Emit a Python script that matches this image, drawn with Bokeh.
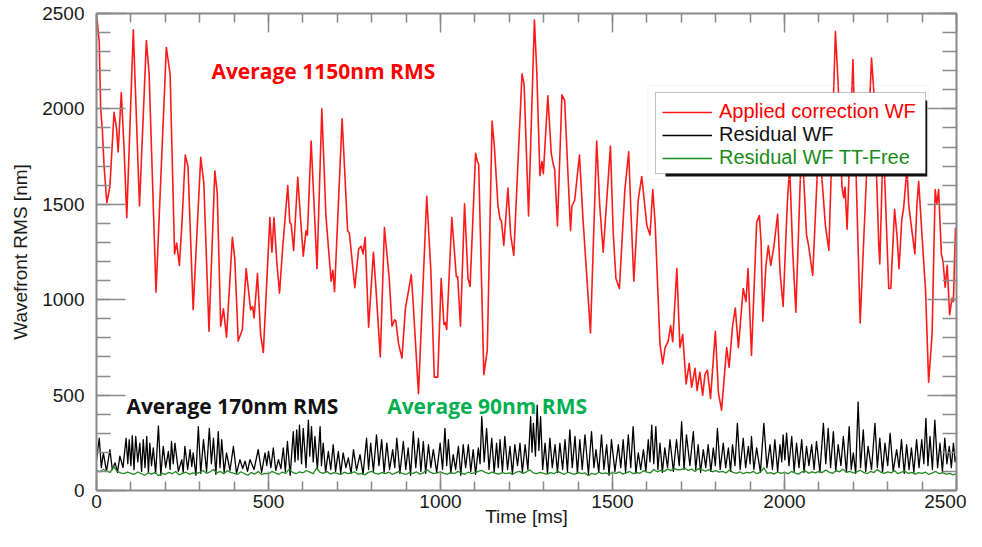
from bokeh.plotting import figure
from bokeh.models import (Range1d, LinearAxis, SingleIntervalTicker, Label, Legend,
                          LegendItem, BoxAnnotation, CustomJSTickFormatter)
from bokeh.embed import file_html
from bokeh.resources import INLINE

# ---------------- data ----------------
red_t = [0, 8, 12, 17, 22, 30, 39, 51, 58, 63, 72, 80, 88, 107, 125, 145, 153, 173, 203, 214,
         227, 233, 241, 249, 258, 266, 281, 303, 312, 327, 344, 351, 361, 369, 378, 395, 402, 412,
         424, 435, 448, 454, 458, 468, 477, 485, 504, 510, 516, 524, 532, 541, 556, 562, 566, 573,
         585, 590, 601, 609, 613, 624, 641, 655, 667, 682, 687, 692, 714, 730, 735, 751, 762, 769,
         775, 781, 791, 805, 812, 825, 837, 851, 859, 866, 870, 878, 888, 898, 905, 915, 920, 936,
         960, 972, 982, 992, 1002, 1010, 1014, 1018, 1033, 1046, 1050, 1058, 1070, 1080, 1086,
         1102, 1107, 1111, 1126, 1136, 1150, 1157, 1167, 1173, 1177, 1184, 1196, 1204, 1213, 1237,
         1243, 1256, 1273, 1280, 1289, 1295, 1299, 1312, 1322, 1327, 1332, 1340, 1353, 1361, 1378,
         1382, 1390, 1404, 1414, 1436, 1454, 1463, 1473, 1494, 1502, 1510, 1520, 1536, 1547, 1553,
         1562, 1575, 1585, 1600, 1609, 1617, 1624, 1638, 1646, 1653, 1662, 1669, 1675, 1687, 1696,
         1704, 1714, 1723, 1730, 1740, 1746, 1754, 1762, 1769, 1776, 1785, 1799, 1808, 1817, 1832,
         1839, 1849, 1857, 1866, 1880, 1888, 1894, 1904, 1919, 1927, 1932, 1937, 1946, 1953, 1960,
         1969, 1980, 1987, 1996, 2008, 2015, 2024, 2033, 2050, 2064, 2070, 2082, 2100, 2119, 2129,
         2148, 2156, 2167, 2172, 2176, 2182, 2199, 2220, 2253, 2260, 2274, 2277, 2284, 2290, 2303,
         2309, 2320, 2327, 2333, 2341, 2346, 2356, 2361, 2369, 2379, 2385, 2390, 2400, 2410, 2419,
         2429, 2438, 2443, 2448, 2456, 2461, 2467, 2473, 2480, 2487, 2491, 2497]
red_v = [2500, 2350, 2008, 1888, 1700, 1508, 1594, 1982, 1900, 1775, 2086, 1800, 1430, 2414, 1491,
         2358, 2181, 1039, 2322, 2181, 1240, 1297, 1180, 1422, 1758, 1698, 947, 1746, 1611, 835,
         1675, 1560, 861, 952, 804, 1327, 1215, 783, 844, 1163, 947, 964, 904, 1137, 818, 723, 1430,
         1249, 1430, 1200, 1034, 1266, 1598, 1404, 1395, 1258, 1642, 1508, 1228, 1361, 1339, 1832,
         1163, 2000, 1439, 1097, 1154, 1042, 1948, 1361, 1350, 1063, 1266, 1280, 1240, 1327, 856,
         1249, 1070, 700, 1378, 1111, 861, 894, 890, 770, 694, 956, 1025, 1132, 1000, 507, 1542,
         1150, 594, 594, 1111, 870, 880, 844, 1430, 1120, 1120, 861, 1503, 1111, 1070, 1767, 1727,
         1710, 607, 735, 1936, 1793, 1494, 1422, 1415, 1284, 1585, 1339, 1232, 2184, 2130, 1439,
         2466, 2190, 1650, 1724, 1660, 2069, 1767, 1716, 1680, 1387, 2074, 2043, 1361, 1491, 1520,
         1758, 1430, 826, 1832, 1490, 1249, 1805, 1353, 1111, 1059, 1577, 1775, 1490, 1097, 1525,
         1646, 1387, 1339, 1577, 1400, 766, 663, 749, 783, 864, 780, 1163, 749, 818, 559, 666, 542,
         640, 525, 620, 499, 610, 630, 483, 835, 510, 421, 749, 645, 861, 956, 749, 1059, 990, 1163,
         708, 1404, 1441, 1300, 887, 1180, 1283, 1180, 1276, 1448, 1145, 965, 1500, 1700, 1249, 935,
         1850, 1340, 1284, 1128, 1850, 1387, 1258, 2405, 2129, 1594, 1534, 1590, 1370, 2258, 878,
         2267, 2080, 1289, 1187, 1645, 1700, 1059, 1059, 1474, 1335, 1163, 1422, 1474, 1690, 1500,
         1380, 1240, 1500, 1620, 1330, 1051, 568, 818, 1577, 1500, 1577, 1240, 1200, 1066, 1180,
         921, 1008, 990, 1378]

black_t = [0, 8, 14, 20, 29, 39, 46, 54, 61, 68, 77, 86, 91, 95, 100, 104, 109, 114, 120, 126, 131,
           136, 141, 146, 151, 155, 160, 165, 172, 180, 187, 194, 201, 209, 214, 218, 223, 228, 238,
           248, 252, 257, 265, 272, 277, 281, 289, 296, 303, 311, 320, 328, 334, 340, 347, 354, 359,
           364, 371, 378, 388, 398, 407, 417, 425, 432, 439, 446, 458, 470, 480, 490, 495, 500, 507,
           514, 521, 529, 536, 543, 549, 555, 563, 572, 577, 582, 586, 590, 596, 601, 609, 616, 620,
           625, 630, 635, 642, 650, 654, 659, 666, 674, 681, 688, 695, 703, 710, 717, 725, 732, 740,
           747, 756, 766, 775, 785, 791, 797, 805, 814, 821, 829, 836, 844, 852, 861, 867, 873, 882,
           892, 899, 906, 913, 921, 928, 936, 943, 950, 957, 965, 972, 979, 989, 999, 1006, 1013,
           1018, 1023, 1030, 1037, 1044, 1052, 1059, 1066, 1073, 1081, 1088, 1095, 1102, 1110, 1115,
           1120, 1127, 1134, 1141, 1149, 1156, 1163, 1168, 1173, 1180, 1187, 1195, 1202, 1209, 1216,
           1224, 1231, 1238, 1246, 1254, 1262, 1266, 1270, 1276, 1281, 1286, 1291, 1297, 1304, 1311,
           1318, 1325, 1333, 1340, 1347, 1355, 1362, 1369, 1376, 1383, 1391, 1398, 1405, 1412, 1420,
           1430, 1439, 1446, 1452, 1460, 1468, 1475, 1483, 1490, 1497, 1507, 1517, 1524, 1531, 1538,
           1546, 1553, 1560, 1568, 1575, 1582, 1590, 1597, 1604, 1609, 1614, 1620, 1626, 1632, 1638,
           1645, 1652, 1660, 1667, 1677, 1686, 1694, 1701, 1708, 1715, 1725, 1735, 1742, 1749, 1756,
           1764, 1771, 1778, 1786, 1793, 1799, 1805, 1813, 1822, 1829, 1837, 1843, 1849, 1856, 1863,
           1871, 1880, 1887, 1895, 1900, 1904, 1911, 1919, 1930, 1940, 1949, 1958, 1965, 1972, 1980,
           1987, 1992, 1996, 2001, 2006, 2013, 2021, 2028, 2035, 2042, 2050, 2057, 2064, 2071, 2079,
           2086, 2093, 2103, 2113, 2120, 2127, 2134, 2142, 2149, 2156, 2164, 2171, 2180, 2188, 2194,
           2200, 2207, 2214, 2221, 2229, 2236, 2243, 2253, 2263, 2270, 2277, 2285, 2292, 2300, 2307,
           2316, 2326, 2333, 2340, 2348, 2355, 2362, 2369, 2376, 2384, 2391, 2399, 2405, 2411, 2417,
           2423, 2430, 2437, 2445, 2452, 2459, 2466, 2472, 2479, 2485, 2491, 2496, 2500]
black_v = [160, 274, 120, 197, 100, 214, 110, 145, 95, 180, 120, 274, 140, 266, 130, 287, 110, 283,
           150, 248, 100, 266, 120, 283, 95, 248, 130, 223, 90, 338, 80, 231, 120, 205, 110, 257, 140,
           248, 100, 162, 95, 231, 110, 214, 125, 197, 80, 335, 90, 266, 100, 326, 140, 274, 85, 309,
           120, 266, 95, 197, 105, 231, 90, 162, 115, 154, 100, 162, 110, 214, 95, 197, 130, 205, 120,
           223, 105, 162, 115, 223, 100, 257, 80, 309, 150, 318, 160, 343, 140, 326, 120, 369, 180,
           335, 150, 283, 110, 335, 130, 248, 95, 205, 110, 240, 100, 205, 90, 197, 120, 171, 90,
           214, 105, 188, 85, 274, 110, 248, 100, 292, 130, 266, 95, 248, 110, 214, 120, 274, 90,
           257, 110, 223, 80, 309, 120, 274, 100, 257, 90, 240, 120, 214, 95, 248, 110, 326, 130,
           266, 90, 188, 110, 231, 80, 240, 120, 240, 100, 214, 85, 223, 140, 387, 150, 326, 110,
           274, 95, 248, 120, 266, 100, 283, 110, 231, 85, 240, 130, 248, 95, 240, 110, 387, 200,
           352, 180, 447, 210, 387, 110, 248, 90, 274, 120, 240, 95, 248, 110, 266, 100, 318, 120,
           283, 90, 266, 110, 292, 85, 309, 120, 214, 95, 292, 110, 240, 80, 266, 100, 240, 120, 266,
           95, 292, 120, 335, 90, 197, 110, 214, 100, 266, 150, 343, 140, 335, 110, 248, 95, 223,
           120, 266, 100, 266, 130, 361, 110, 292, 130, 309, 110, 240, 95, 214, 120, 240, 100, 223,
           130, 326, 110, 248, 120, 223, 100, 240, 130, 352, 110, 274, 120, 231, 140, 283, 110, 223,
           95, 352, 120, 240, 110, 266, 100, 240, 150, 292, 160, 300, 130, 283, 100, 248, 120, 266,
           95, 231, 130, 240, 110, 257, 95, 352, 140, 326, 120, 309, 100, 240, 130, 283, 95, 335,
           110, 197, 90, 464, 120, 318, 100, 231, 110, 352, 120, 274, 95, 248, 130, 300, 100, 214,
           120, 266, 90, 240, 110, 223, 95, 266, 120, 266, 140, 378, 130, 283, 110, 369, 120, 248,
           100, 274, 140, 231, 120, 248, 150, 180]

green_t = list(range(0, 2501, 10))
green_v = [105, 98, 110, 102, 95, 125, 100, 92, 88, 96,
           90, 85, 97, 88, 80, 92, 86, 95, 78, 90,
           84, 95, 88, 100, 82, 90, 96, 85, 92, 88,
           95, 105, 90, 98, 110, 92, 100, 88, 104, 95,
           90, 85, 98, 88, 80, 94, 86, 100, 84, 90,
           88, 100, 92, 85, 96, 90, 112, 95, 88, 98,
           92, 105, 96, 88, 118, 95, 90, 100, 86, 94,
           90, 84, 96, 88, 92, 98, 85, 90, 82, 95,
           100, 90, 86, 94, 88, 96, 84, 92, 100, 88,
           85, 94, 90, 98, 86, 92, 110, 96, 88, 92,
           98, 90, 86, 95, 88, 100, 92, 85, 96, 90,
           92, 100, 105, 95, 88, 96, 90, 86, 94, 88,
           92, 85, 96, 100, 90, 98, 108, 92, 88, 95,
           90, 86, 94, 88, 100, 92, 85, 96, 90, 84,
           95, 88, 92, 78, 90, 84, 96, 88, 92, 86,
           94, 90, 98, 86, 92, 100, 88, 95, 90, 104,
           96, 92, 110, 98, 105, 100, 112, 104, 115, 108,
           110, 118, 105, 112, 100, 115, 108, 102, 110, 98,
           104, 96, 100, 92, 108, 95, 90, 98, 88, 95,
           92, 100, 88, 96, 118, 90, 94, 86, 98, 90,
           95, 88, 100, 92, 86, 96, 104, 90, 98, 92,
           100, 94, 108, 96, 90, 104, 98, 112, 95, 100,
           92, 98, 106, 95, 88, 100, 94, 110, 96, 90,
           98, 92, 104, 88, 96, 100, 90, 95, 86, 94,
           90, 96, 84, 92, 100, 88, 94, 86, 90, 82,
           88]

series_labels = ["Applied correction WF", "Residual WF", "Residual WF TT-Free"]
annotations = ["Average 1150nm RMS", "Average 170nm RMS", "Average 90nm RMS"]
x_title = "Time [ms]"
y_title = "Wavefront RMS [nm]"

# ---------------- figure ----------------
AX = "#8a8a8a"
FONT = "Liberation Sans"

p = figure(width=966, height=531, output_backend="svg", toolbar_location=None,
           x_range=Range1d(0, 2500), y_range=Range1d(0, 2500),
           min_border_left=96, min_border_right=10, min_border_top=13, min_border_bottom=41,
           background_fill_color="white", border_fill_color="white")
p.outline_line_color = None
p.xgrid.visible = False
p.ygrid.visible = False


def style_axis(ax, tick_in, minor_in, show_labels=True):
    ax.ticker = SingleIntervalTicker(interval=500, num_minor_ticks=5)
    ax.axis_line_color = AX
    ax.axis_line_width = 2
    ax.major_tick_line_color = AX
    ax.minor_tick_line_color = AX
    ax.major_tick_line_width = 1.5
    ax.minor_tick_line_width = 1.5
    ax.major_tick_in = tick_in
    ax.major_tick_out = 0
    ax.minor_tick_in = minor_in
    ax.minor_tick_out = 0
    ax.major_label_text_font = FONT
    ax.major_label_text_color = "#1a1a1a"
    ax.axis_label_text_font = FONT
    ax.axis_label_text_font_style = "normal"
    ax.axis_label_text_color = "#1a1a1a"
    ax.major_label_text_font_size = "19px"
    ax.axis_label_text_font_size = "19px"
    if not show_labels:
        ax.formatter = CustomJSTickFormatter(code="return ''")
        ax.major_label_standoff = 0


xa = p.xaxis[0]
ya = p.yaxis[0]
style_axis(xa, 19, 9)
style_axis(ya, 29, 14)
xa.axis_label = x_title
ya.axis_label = y_title
xa.major_label_standoff = 4
xa.axis_label_standoff = -5
ya.major_label_standoff = 12
ya.axis_label_standoff = 8

top = LinearAxis()
style_axis(top, 19, 9, show_labels=False)
right = LinearAxis()
style_axis(right, 29, 14, show_labels=False)
p.add_layout(top, "above")
p.add_layout(right, "right")

r_red = p.line(red_t, red_v, line_color="#ff1a1a", line_width=1.6, line_join="round")
r_black = p.line(black_t, black_v, line_color="#000000", line_width=1.3, line_join="round")
r_green = p.line(green_t, green_v, line_color="#1f8a1f", line_width=1.3, line_join="round")

# annotations
p.add_layout(Label(x=334, y=2201, text=annotations[0], text_color="#ff0000",
                   text_font="Open Sans", text_font_style="bold", text_font_size="21px",
                   text_baseline="alphabetic"))
p.add_layout(Label(x=87, y=445, text=annotations[1], text_color="#111111",
                   text_font="Open Sans", text_font_style="bold", text_font_size="21px",
                   text_baseline="alphabetic"))
p.add_layout(Label(x=845, y=445, text=annotations[2], text_color="#00b050",
                   text_font="Open Sans", text_font_style="bold", text_font_size="21px",
                   text_baseline="alphabetic"))

# legend frame, shadow, box
p.add_layout(BoxAnnotation(left=1602, right=2419, bottom=1630, top=2123,
                           fill_alpha=0, line_color="#d5e3f3", line_width=1))
p.add_layout(BoxAnnotation(left=1654, right=2415, bottom=1646, top=2044,
                           fill_color="#111111", fill_alpha=1, line_color=None))
p.add_layout(BoxAnnotation(left=1625, right=2410, bottom=1661, top=2086,
                           fill_color="white", fill_alpha=1, line_color="#333333",
                           line_width=1))

leg_colors = ["#ff0000", "#111111", "#1a8a1a"]
renders = [r_red, r_black, r_green]
leg_y = [367, 344, 321]
for lab, col, rr, ly in zip(series_labels, leg_colors, renders, leg_y):
    lg = Legend(items=[LegendItem(label=lab, renderers=[rr])], location=(566, ly),
                label_text_font=FONT, label_text_font_size="20px", label_text_color=col,
                glyph_width=50, glyph_height=22, label_height=22, label_standoff=7,
                padding=0, margin=0, spacing=0, border_line_color=None,
                background_fill_alpha=0)
    p.add_layout(lg, "center")

open("out.html", "w").write(file_html(p, INLINE))
